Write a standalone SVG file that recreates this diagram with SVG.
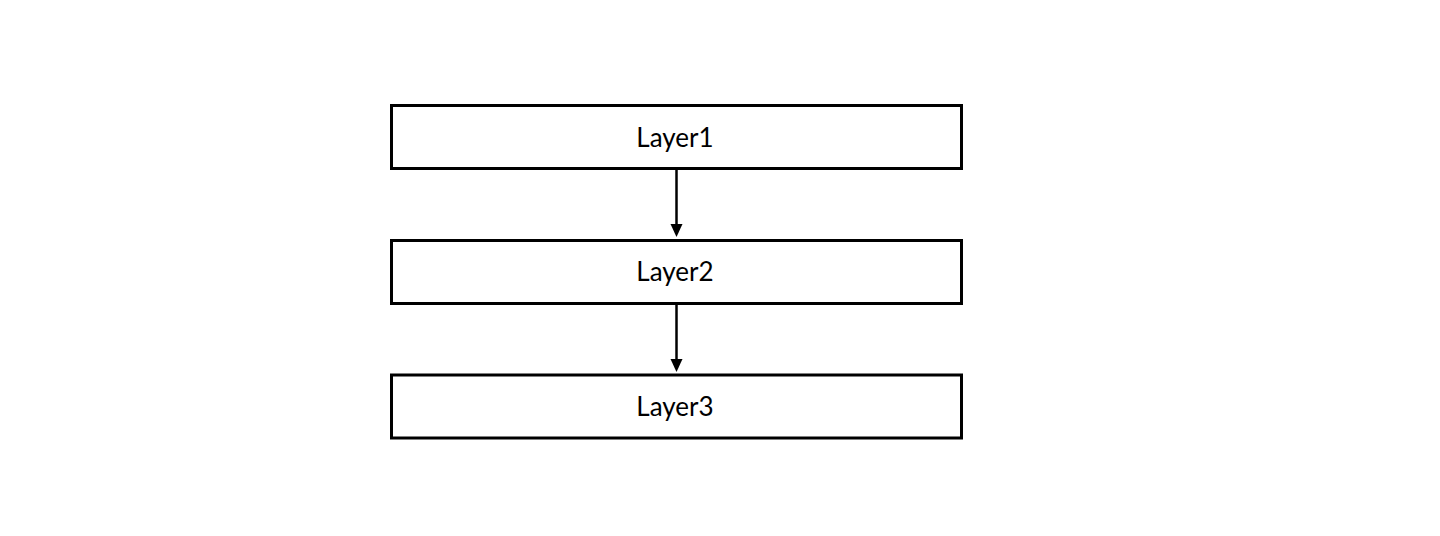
<svg xmlns="http://www.w3.org/2000/svg" width="1440" height="536" viewBox="0 0 1440 536">
<defs>
<style>
.box{fill:#fff;stroke:#000;stroke-width:3}
.lbl{font-family:Lato,"Liberation Sans",sans-serif;font-size:26px;fill:#000;text-anchor:middle}
.conn{stroke:#000;stroke-width:2.5;fill:none}
</style>
</defs>
<rect width="1440" height="536" fill="#fff"/>
<g id="connectors">
<path class="conn" d="M676.5,170 V224" />
<polygon points="670.5,224 682.5,224 676.5,237" fill="#000"/>
<path class="conn" d="M676.5,304.5 V359" />
<polygon points="670.5,359 682.5,359 676.5,372" fill="#000"/>
</g>
<g id="layer1">
<rect class="box" x="391.5" y="105.5" width="570" height="63"/>
<text class="lbl" x="675" y="146.5">Layer1</text>
</g>
<g id="layer2">
<rect class="box" x="391.5" y="240.5" width="570" height="63"/>
<text class="lbl" x="675" y="281">Layer2</text>
</g>
<g id="layer3">
<rect class="box" x="391.5" y="375" width="570" height="63"/>
<text class="lbl" x="675" y="415.5">Layer3</text>
</g>
</svg>
